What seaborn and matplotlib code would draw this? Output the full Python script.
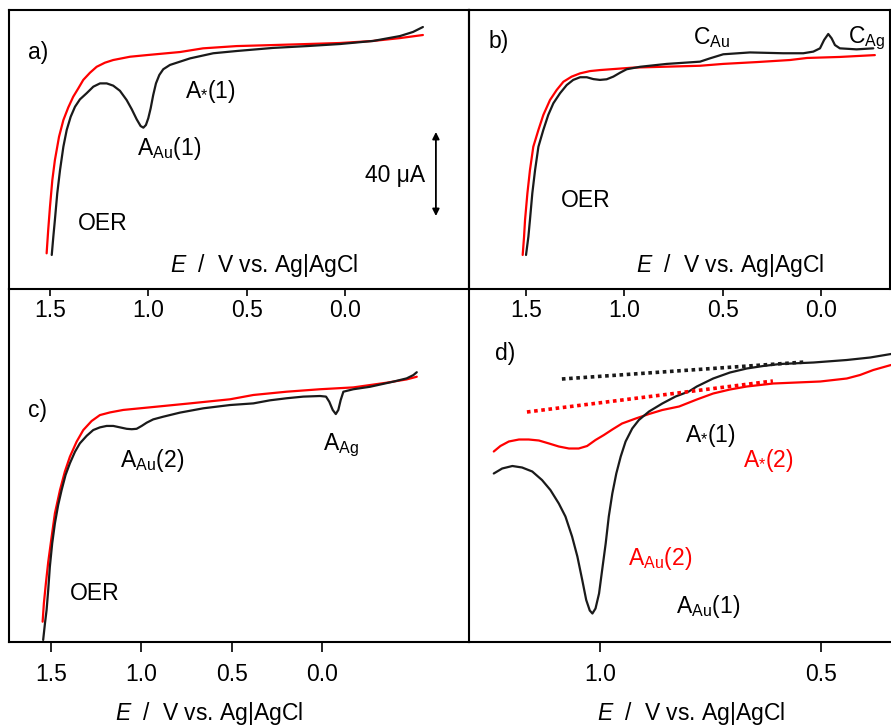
import matplotlib
matplotlib.use("Agg")
import matplotlib.pyplot as plt
import seaborn as sns

sns.set_theme(style="white")
plt.rcParams["font.family"] = ["Liberation Sans", "DejaVu Sans"]
plt.rcParams["mathtext.fontset"] = "custom"
plt.rcParams["mathtext.rm"] = "Liberation Sans"
plt.rcParams["mathtext.it"] = "Liberation Sans:italic"
plt.rcParams["text.color"] = "black"
plt.rcParams["axes.labelcolor"] = "black"
plt.rcParams["xtick.color"] = "black"

# potentials in V vs. Ag|AgCl, currents in uA (arbitrary offset)
# a) first sweep (black) / second sweep (red)
a_E_black = [1.491, 1.483, 1.475, 1.463, 1.449, 1.432, 1.415, 1.395, 1.373, 1.348, 1.314, 1.280,
             1.246, 1.212, 1.179, 1.145, 1.111, 1.085, 1.060, 1.040, 1.026, 1.013, 1.001, 0.989,
             0.976, 0.962, 0.945, 0.925, 0.891, 0.789, 0.671, 0.552, 0.368, 0.195, 0.028,
             -0.140, -0.277, -0.343, -0.393]
a_I_black = [16.6, 25.5, 33.7, 46.7, 58.0, 69.4, 77.6, 84.0, 88.9, 92.5, 95.5, 98.7,
             100.3, 100.3, 99.2, 96.7, 92.2, 87.7, 82.8, 79.5, 78.7, 80.0, 83.3, 88.1,
             94.6, 100.3, 104.4, 107.2, 109.3, 112.5, 115.0, 116.1, 117.6, 118.5, 119.5,
             121.0, 123.4, 125.4, 127.8]
a_E_red = [1.517, 1.509, 1.500, 1.488, 1.475, 1.454, 1.432, 1.407, 1.382, 1.356, 1.331, 1.297,
           1.263, 1.221, 1.179, 1.094, 1.009, 0.840, 0.723, 0.552, 0.368, 0.195, 0.028,
           -0.140, -0.277, -0.393]
a_I_red = [17.4, 28.8, 40.1, 53.2, 62.9, 74.3, 82.4, 88.6, 93.8, 97.9, 102.0, 105.5,
           108.4, 110.4, 111.7, 113.3, 114.1, 115.6, 117.4, 118.5, 119.0, 119.5, 120.0,
           121.0, 122.4, 123.9]

# b)
b_E_black = [1.500, 1.488, 1.480, 1.468, 1.454, 1.437, 1.412, 1.387, 1.361, 1.327, 1.293, 1.260,
             1.225, 1.191, 1.158, 1.124, 1.090, 1.056, 1.022, 0.988, 0.920, 0.785, 0.615,
             0.565, 0.497, 0.361, 0.192, 0.090, 0.039, 0.005, -0.016, -0.037, -0.054, -0.071,
             -0.096, -0.181, -0.266]
b_I_black = [16.6, 25.5, 33.7, 46.7, 58.0, 69.4, 77.6, 84.9, 90.6, 95.5, 99.5, 102.0,
             103.3, 103.3, 102.4, 102.0, 102.3, 103.6, 105.5, 107.2, 108.4, 109.8, 110.9,
             112.5, 114.5, 115.4, 115.0, 115.0, 115.8, 117.4, 121.5, 124.4, 122.3, 119.0,
             117.4, 116.9, 117.4]
b_E_red = [1.517, 1.510, 1.505, 1.493, 1.480, 1.463, 1.437, 1.412, 1.378, 1.344, 1.310, 1.268,
           1.225, 1.175, 1.124, 0.955, 0.615, 0.498, 0.326, 0.158, 0.071, -0.096, -0.274]
b_I_red = [16.6, 25.5, 33.7, 46.7, 58.0, 69.4, 77.6, 84.9, 92.2, 97.1, 101.1, 103.6,
           105.2, 106.3, 106.8, 108.0, 108.9, 109.8, 110.7, 111.7, 112.7, 113.2, 114.1]

# c)
c_E_black = [1.543, 1.533, 1.524, 1.515, 1.506, 1.493, 1.478, 1.460, 1.441, 1.419, 1.395, 1.367,
             1.340, 1.302, 1.266, 1.229, 1.192, 1.155, 1.118, 1.081, 1.053, 1.026, 0.998,
             0.970, 0.934, 0.879, 0.786, 0.657, 0.509, 0.380, 0.288, 0.196, 0.104, 0.011,
             -0.022, -0.040, -0.059, -0.076, -0.090, -0.103, -0.118, -0.173, -0.265, -0.394,
             -0.468, -0.505, -0.524]
c_I_black = [1.0, 9.1, 15.6, 25.4, 36.7, 48.1, 57.9, 66.8, 74.1, 81.5, 87.2, 92.8,
             96.9, 100.6, 103.4, 104.7, 105.4, 105.4, 104.7, 104.0, 103.8, 104.0, 105.4,
             107.0, 108.6, 109.9, 111.9, 114.0, 115.6, 116.4, 117.9, 118.9, 119.7, 120.0,
             119.7, 117.2, 113.2, 111.2, 113.2, 118.0, 122.1, 123.3, 124.5, 127.0,
             128.6, 130.2, 131.6]
c_E_red = [1.546, 1.539, 1.528, 1.515, 1.496, 1.478, 1.450, 1.423, 1.395, 1.358, 1.321, 1.275,
           1.229, 1.173, 1.100, 0.915, 0.731, 0.509, 0.380, 0.196, 0.011, -0.173, -0.358,
           -0.468, -0.524]
c_I_red = [9.9, 18.9, 28.6, 39.0, 51.4, 62.8, 74.1, 83.1, 90.4, 97.7, 103.4, 107.8,
           110.7, 112.0, 113.2, 114.8, 116.4, 118.4, 120.5, 122.1, 123.3, 124.2, 126.5,
           128.1, 129.4]

# d) zoom on the Au oxidation region
d_E_black = [1.240, 1.221, 1.198, 1.176, 1.153, 1.131, 1.112, 1.093, 1.078, 1.063, 1.051, 1.040,
             1.031, 1.023, 1.017, 1.010, 1.002, 0.995, 0.987, 0.980, 0.972, 0.963, 0.953,
             0.942, 0.927, 0.912, 0.889, 0.859, 0.829, 0.799, 0.781, 0.744, 0.706, 0.668,
             0.631, 0.593, 0.517, 0.442, 0.389, 0.342]
d_I_black = [33.7, 34.7, 35.2, 34.9, 34.1, 32.4, 30.4, 27.7, 25.1, 21.1, 17.1, 12.4,
             8.4, 6.3, 5.7, 6.7, 9.7, 14.4, 19.7, 25.1, 29.7, 33.7, 37.1,
             40.1, 42.7, 44.4, 46.1, 47.7, 49.1, 50.1, 51.1, 52.7, 53.9, 54.7,
             55.2, 55.6, 55.9, 56.4, 56.9, 57.6]
d_E_red = [1.240, 1.225, 1.206, 1.183, 1.161, 1.138, 1.115, 1.093, 1.070, 1.048, 1.029, 1.010,
           0.991, 0.972, 0.950, 0.919, 0.889, 0.859, 0.821, 0.781, 0.744, 0.706, 0.668,
           0.608, 0.555, 0.502, 0.442, 0.412, 0.382, 0.342]
d_I_red = [38.1, 39.2, 40.1, 40.5, 40.5, 40.3, 39.7, 39.1, 38.7, 38.7, 39.2, 40.4,
           41.4, 42.5, 43.7, 44.7, 45.6, 46.4, 47.1, 48.5, 49.7, 50.5, 51.1,
           51.7, 51.9, 52.1, 52.7, 53.4, 54.4, 55.4]
# baselines (dotted)
d_base_E_black = [1.086, 0.536]
d_base_I_black = [52.6, 56.0]
d_base_E_red = [1.165, 0.609]
d_base_I_red = [46.0, 52.2]

ticks_top = [1.5, 1.0, 0.5, 0.0]
ticks_c = [1.5, 1.0, 0.5, 0.0]
ticks_d = [1.0, 0.5]

BLACK = "#1a1a1a"
RED = "#ff0000"
FS = 16.5
XLAB = r"$E$  /  V vs. Ag|AgCl"

fig = plt.figure(figsize=(8.91, 7.28), dpi=100)
W, H = 891, 728
ax_a = fig.add_axes([9 / W, 1 - 289 / H, 460 / W, 279 / H])
ax_b = fig.add_axes([469 / W, 1 - 289 / H, 421 / W, 279 / H])
ax_c = fig.add_axes([9 / W, 1 - 642 / H, 460 / W, 353 / H])
ax_d = fig.add_axes([469 / W, 1 - 642 / H, 422 / W, 353 / H])


def trace(ax, E, I, color, **kw):
    sns.lineplot(x=E, y=I, ax=ax, color=color, sort=False, estimator=None, **kw)


for ax in (ax_a, ax_b, ax_c, ax_d):
    ax.set_facecolor("none")
    for s in ax.spines.values():
        s.set_linewidth(1.5)
        s.set_color("black")

# a)
trace(ax_a, a_E_red, a_I_red, RED, lw=1.6)
trace(ax_a, a_E_black, a_I_black, BLACK, lw=1.6)
ax_a.set_xlim(1.708, -0.627)
ax_a.set_ylim(0, 136.1)
ax_a.text(1.612, 115.6, "a)", fontsize=FS, va="center")
ax_a.text(0.815, 96.1, r"A$_{*}$(1)", fontsize=FS, va="center")
ax_a.text(1.058, 65.4, r"A$_{\mathrm{Au}}$(1)", fontsize=FS, va="baseline")
ax_a.text(-0.404, 52.2, "40 μA", fontsize=FS, ha="right", va="baseline")
ax_a.annotate("", xy=(-0.459, 76.6), xytext=(-0.459, 35.6),
              arrowprops=dict(arrowstyle="<|-|>", color="black", lw=1.3, mutation_scale=10,
                              shrinkA=0, shrinkB=0))
ax_a.text(1.358, 28.8, "OER", fontsize=FS, va="baseline")
ax_a.text(0.891, 8.3, XLAB, fontsize=FS, va="baseline")

# b)
trace(ax_b, b_E_red, b_I_red, RED, lw=1.6)
trace(ax_b, b_E_black, b_I_black, BLACK, lw=1.6)
ax_b.set_xlim(1.790, -0.351)
ax_b.set_ylim(0, 136.1)
ax_b.text(1.693, 120.5, "b)", fontsize=FS, va="center")
ax_b.text(0.651, 119.5, r"C$_{\mathrm{Au}}$", fontsize=FS, va="baseline")
ax_b.text(-0.137, 120.0, r"C$_{\mathrm{Ag}}$", fontsize=FS, va="baseline")
ax_b.text(1.322, 40.0, "OER", fontsize=FS, va="baseline")
ax_b.text(0.941, 8.3, XLAB, fontsize=FS, va="baseline")

for ax in (ax_a, ax_b):
    ax.set_xticks(ticks_top)
    ax.set_xticklabels([f"{t:.1f}" for t in ticks_top])
    ax.tick_params(axis="x", bottom=True, direction="out", length=5, width=1.2,
                   labelsize=FS, pad=2, colors="black")

# c)
trace(ax_c, c_E_red, c_I_red, RED, lw=1.6)
trace(ax_c, c_E_black, c_I_black, BLACK, lw=1.6)
ax_c.set_xlim(1.732, -0.813)
ax_c.set_ylim(0, 172.2)
ax_c.spines["top"].set_visible(False)
ax_c.spines["right"].set_visible(False)
ax_c.text(1.627, 112.7, "c)", fontsize=FS, va="center")
ax_c.text(1.118, 85.4, r"A$_{\mathrm{Au}}$(2)", fontsize=FS, va="baseline")
ax_c.text(-0.005, 93.7, r"A$_{\mathrm{Ag}}$", fontsize=FS, va="baseline")
ax_c.text(1.395, 20.5, "OER", fontsize=FS, va="baseline")
ax_c.set_xticks(ticks_c)
ax_c.set_xticklabels([f"{t:.1f}" for t in ticks_c])

# d)
trace(ax_d, d_E_red, d_I_red, RED, lw=1.6)
trace(ax_d, d_E_black, d_I_black, BLACK, lw=1.6)
trace(ax_d, d_base_E_black, d_base_I_black, BLACK, lw=2.6, linestyle=(0, (1, 1)))
trace(ax_d, d_base_E_red, d_base_I_red, RED, lw=2.6, linestyle=(0, (1, 1)))
ax_d.set_xlim(1.296, 0.342)
ax_d.set_ylim(0, 70.6)
ax_d.spines["top"].set_visible(False)
ax_d.spines["right"].set_visible(False)
ax_d.text(1.238, 57.6, "d)", fontsize=FS, va="center")
ax_d.text(0.808, 40.0, r"A$_{*}$(1)", fontsize=FS, va="baseline", color="black")
ax_d.text(0.676, 35.0, r"A$_{*}$(2)", fontsize=FS, va="baseline", color=RED)
ax_d.text(0.937, 15.4, r"A$_{\mathrm{Au}}$(2)", fontsize=FS, va="baseline", color=RED)
ax_d.text(0.828, 5.8, r"A$_{\mathrm{Au}}$(1)", fontsize=FS, va="baseline", color="black")
ax_d.set_xticks(ticks_d)
ax_d.set_xticklabels([f"{t:.1f}" for t in ticks_d])

for ax in (ax_c, ax_d):
    ax.tick_params(axis="x", bottom=True, direction="out", length=7, width=1.2,
                   labelsize=FS, pad=8, colors="black")

for ax in (ax_a, ax_b, ax_c, ax_d):
    ax.set_yticks([])
    ax.set_ylabel("")
    ax.set_xlabel("")

ax_c.set_xlabel(XLAB, fontsize=FS)
ax_c.xaxis.set_label_coords(0.435, -0.165)
ax_d.set_xlabel(XLAB, fontsize=FS)
ax_d.xaxis.set_label_coords(0.526, -0.165)

fig.savefig("out.png", dpi=100)
